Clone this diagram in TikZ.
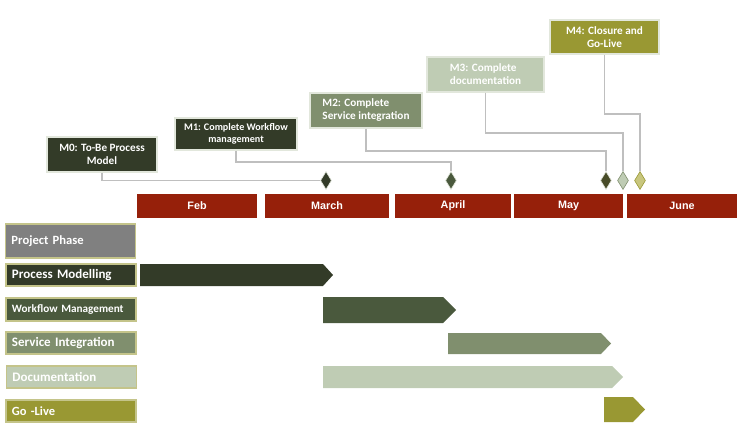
\documentclass[tikz,border=0pt]{standalone}
\usepackage{fontspec}
\setmainfont{Carlito}
\newfontfamily\arialf{Liberation Sans}
\usetikzlibrary{shapes.geometric}
\definecolor{darkg}{RGB}{51,59,40}
\definecolor{wfg}{RGB}{74,89,61}
\definecolor{sig}{RGB}{128,143,110}
\definecolor{docg}{RGB}{191,204,180}
\definecolor{olv}{RGB}{153,152,51}
\definecolor{phgray}{RGB}{128,128,128}
\definecolor{monthred}{RGB}{150,32,10}
\definecolor{msborder}{RGB}{226,231,220}
\definecolor{phborder}{RGB}{196,196,138}
\definecolor{conn}{RGB}{191,191,191}
\definecolor{dmay}{RGB}{72,76,40}
\definecolor{dlol}{RGB}{200,198,126}
\begin{document}
\begin{tikzpicture}[x=1pt,y=-1pt,
  ms/.style={draw=msborder, line width=1.2pt, inner sep=0pt, text=white,
    font=\bfseries\fontsize{11.2}{13}\selectfont, align=center},
  month/.style={fill=monthred, text=white, inner sep=0pt, minimum height=24pt,
    font=\arialf\bfseries\fontsize{10.8}{12}\selectfont},
  phase/.style={draw=phborder, line width=1.2pt, text=white, inner xsep=6pt, inner ysep=0pt,
    text width=118pt, align=left, minimum height=22pt, font=\bfseries\fontsize{13}{15}\selectfont},
  mstone/.style={diamond, draw=msborder, line width=0.6pt, inner sep=0pt, minimum width=11pt, minimum height=18pt},
  link/.style={draw=conn, line width=1.3pt}
]
\useasboundingbox (0,0) rectangle (741,428);

% milestones
\node[ms, fill=darkg, minimum width=110pt, minimum height=35pt] (m0) at (102,154.5) {M0: To-Be Process\\Model};
\node[ms, fill=darkg, minimum width=122pt, minimum height=32pt, font=\bfseries\fontsize{10.1}{12}\selectfont] (m1) at (236,134) {M1: Complete Workflow\\management};
\node[ms, fill=sig, minimum width=112pt, minimum height=35pt, align=left] (m2) at (366,110.5) {M2: Complete\\Service integration};
\node[ms, fill=docg, minimum width=117pt, minimum height=35pt, align=left] (m3) at (485.5,74.5) {M3: Complete\\documentation};
\node[ms, fill=olv, minimum width=109pt, minimum height=34pt] (m4) at (604.5,37) {M4: Closure and\\Go-Live};

% diamonds
\node[mstone, fill=darkg] (d0) at (326,180.5) {};
\node[mstone, fill=wfg] (d1) at (451,180.5) {};
\node[mstone, fill=dmay] (d2) at (606,180.5) {};
\node[mstone, fill=docg, draw=sig] (d3) at (623,180.5) {};
\node[mstone, fill=dlol, draw=olv] (d4) at (640,180.5) {};

% connector levels
\coordinate (k1) at (0,162);
\coordinate (k2) at (0,151);
\coordinate (k3) at (0,133);
\coordinate (k4) at (0,114);

\draw[link] (m0.south) |- (d0.west);
\draw[link] (m1.south) -- (m1.south |- k1) -| (d1.north);
\draw[link] (m2.south) -- (m2.south |- k2) -| (d2.north);
\draw[link] (m3.south) -- (m3.south |- k3) -| (d3.north);
\draw[link] (m4.south) -- (m4.south |- k4) -| (d4.north);

% months
\node[month, minimum width=120pt] (feb) at (197,206) {Feb};
\node[month, minimum width=124pt] (mar) at (327,206) {March};
\node[month, minimum width=116pt] (apr) at (453,206) {April};
\node[month, minimum width=109pt] (may) at (568.5,206) {May};
\node[month, minimum width=110pt] (jun) at (682,206) {June};

% phase labels
\node[phase, fill=phgray, minimum height=34pt, font=\bfseries\fontsize{12.6}{15}\selectfont] (pp) at (70.5,241) {Project Phase};
\node[phase, fill=darkg] (pm) at (71,275) {Process Modelling};
\node[phase, fill=wfg, minimum height=23pt, font=\bfseries\fontsize{11.2}{13}\selectfont] (wm) at (71,309.5) {Workflow Management};
\node[phase, fill=sig] (si) at (71,343) {Service Integration};
\node[phase, fill=docg] (dc) at (71.5,377) {Documentation};
\node[phase, fill=olv, font=\bfseries\fontsize{12.5}{15}\selectfont] (gl) at (71,411) {Go -Live};

% bars
\fill[darkg] (140,264) -- (323,264) -- (333,275) -- (323,286) -- (140,286) -- cycle;
\fill[wfg] (323,297) -- (443,297) -- (456,310) -- (443,323) -- (323,323) -- cycle;
\fill[sig] (448,333) -- (601,333) -- (611,343.5) -- (601,354) -- (448,354) -- cycle;
\fill[docg] (323,366) -- (612,366) -- (623,377) -- (612,388) -- (323,388) -- cycle;
\fill[olv] (604,397) -- (633,397) -- (645,409.5) -- (633,422) -- (604,422) -- cycle;
\end{tikzpicture}
\end{document}
